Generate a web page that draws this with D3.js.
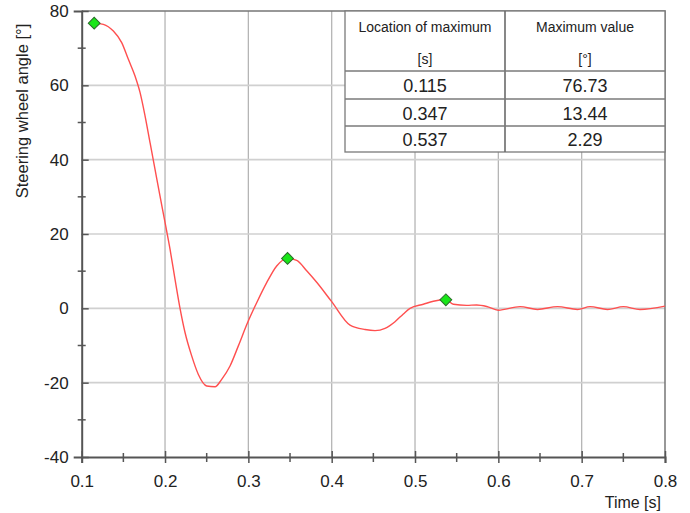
<!DOCTYPE html>
<html>
<head>
<meta charset="utf-8">
<script src="https://cdn.jsdelivr.net/npm/d3@7"></script>
<style>
  body { margin: 0; background: #fff; }
  svg { display: block; font-family: "Liberation Sans", Arial, sans-serif; }
</style>
</head>
<body>
<figure id="chart" style="margin:0"></figure>
<script>
// time samples [s] and steering wheel angle [°]
const times = [0.115, 0.126, 0.138, 0.148, 0.156, 0.164, 0.170, 0.176, 0.182, 0.188,
  0.194, 0.200, 0.206, 0.212, 0.218, 0.224, 0.232, 0.240, 0.250, 0.260,
  0.268, 0.278, 0.288, 0.299, 0.310, 0.322, 0.334, 0.347, 0.358, 0.370,
  0.382, 0.400, 0.422, 0.440, 0.452, 0.464, 0.476, 0.486, 0.494, 0.510,
  0.522, 0.537, 0.546, 0.562, 0.574, 0.586, 0.600, 0.626, 0.647, 0.671,
  0.695, 0.710, 0.731, 0.750, 0.770, 0.800];
const angles = [76.73, 76.4, 74.6, 71.5, 67.0, 62.5, 58.1, 51.8, 44.6, 37.4,
  30.2, 23.1, 15.9, 7.8, 0.0, -6.5, -12.8, -17.8, -20.9, -21.1,
  -19.1, -15.5, -10.1, -3.9, 1.5, 6.9, 11.4, 13.44, 12.9, 10.1,
  7.0, 1.8, -4.5, -5.7, -6.0, -5.4, -3.6, -1.5, 0.0, 1.1,
  1.9, 2.29, 1.1, 0.8, 0.9, 0.5, -0.5, 0.45, -0.3, 0.45,
  -0.3, 0.45, -0.3, 0.45, -0.3, 0.6];

// maxima
const peakTimes = [0.115, 0.347, 0.537];
const peakValues = [76.73, 13.44, 2.29];
const peakTimeLabels = ["0.115", "0.347", "0.537"];
const peakValueLabels = ["76.73", "13.44", "2.29"];
const tableHeaders = [["Location of maximum", "[s]"], ["Maximum value", "[°]"]];

const xTicks = [0.1, 0.2, 0.3, 0.4, 0.5, 0.6, 0.7, 0.8];
const xMinor = [0.15, 0.25, 0.35, 0.45, 0.55, 0.65, 0.75];
const yTicks = [-40, -20, 0, 20, 40, 60, 80];
const yMinor = [-30, -10, 10, 30, 50, 70];

const W = 690, H = 513;
const plotL = 81.7, plotR = 665, plotT = 11, plotB = 457;
const axisColor = "#555";

const svg = d3.select("#chart").append("svg")
  .attr("width", W).attr("height", H);

const x = d3.scaleLinear().domain([0.1, 0.8]).range([plotL, plotR]);
const y = d3.scaleLinear().domain([-40, 80]).range([plotB, plotT]);

// grid
svg.append("g")
  .selectAll("line").data(xTicks.slice(1, -1)).join("line")
  .attr("x1", d => x(d)).attr("x2", d => x(d))
  .attr("y1", plotT).attr("y2", plotB)
  .attr("stroke", "#b5b5b5").attr("stroke-width", 1.3);
svg.append("g")
  .selectAll("line").data(yTicks.slice(1, -1)).join("line")
  .attr("x1", plotL).attr("x2", plotR)
  .attr("y1", d => y(d)).attr("y2", d => y(d))
  .attr("stroke", "#d0d0d0").attr("stroke-width", 1.6);

// frame top / right
svg.append("path")
  .attr("d", `M${plotL},${plotT}H${plotR}V${plotB}`)
  .attr("fill", "none").attr("stroke", "#777").attr("stroke-width", 1.5);

// axes
const xAxis = g => g
  .attr("transform", `translate(0,${plotB})`)
  .call(d3.axisBottom(x).tickValues(xTicks).tickFormat(d3.format(".1f")).tickSize(6).tickPadding(12))
  .call(g => g.select(".domain").attr("stroke", axisColor).attr("stroke-width", 2))
  .call(g => g.selectAll(".tick line").attr("y1", -6).attr("stroke", axisColor).attr("stroke-width", 1.5))
  .call(g => g.selectAll(".tick text").attr("font-size", 17).attr("fill", "#222"))
  .call(g => g.selectAll(".minor").data(xMinor).join("line").attr("class", "minor")
    .attr("x1", d => x(d)).attr("x2", d => x(d)).attr("y1", -4).attr("y2", 5)
    .attr("stroke", axisColor).attr("stroke-width", 1.5));

const yAxis = g => g
  .attr("transform", `translate(${plotL},0)`)
  .call(d3.axisLeft(y).tickValues(yTicks).tickFormat(d => String(d)).tickSize(8).tickPadding(5))
  .call(g => g.select(".domain").attr("stroke", axisColor).attr("stroke-width", 2))
  .call(g => g.selectAll(".tick line").attr("x2", 7).attr("stroke", axisColor).attr("stroke-width", 1.5))
  .call(g => g.selectAll(".tick text").attr("font-size", 17).attr("fill", "#222"))
  .call(g => g.selectAll(".minor").data(yMinor).join("line").attr("class", "minor")
    .attr("y1", d => y(d)).attr("y2", d => y(d)).attr("x1", -4).attr("x2", 4)
    .attr("stroke", axisColor).attr("stroke-width", 1.5));

svg.append("g").call(xAxis);
svg.append("g").call(yAxis);

// axis titles
svg.append("text")
  .attr("x", plotR - 4).attr("y", 508)
  .attr("text-anchor", "end").attr("font-size", 16).attr("fill", "#222")
  .text("Time [s]");
svg.append("text")
  .attr("transform", "translate(22,111) rotate(-90)")
  .attr("text-anchor", "middle").attr("dominant-baseline", "central")
  .attr("font-size", 16.5).attr("fill", "#222")
  .text("Steering wheel angle [°]");

// curve
const data = times.map((t, i) => ({ t, v: angles[i] }));
svg.append("path")
  .datum(data)
  .attr("fill", "none")
  .attr("stroke", "#ff4f4f")
  .attr("stroke-width", 1.4)
  .attr("d", d3.line().x(d => x(d.t)).y(d => y(d.v)).curve(d3.curveMonotoneX));

// markers
svg.append("g")
  .selectAll("path").data(peakTimes).join("path")
  .attr("transform", (d, i) => `translate(${x(d)},${y(peakValues[i])}) rotate(45)`)
  .attr("d", d3.symbol(d3.symbolSquare, 70))
  .attr("fill", "#19e619").attr("stroke", "#2b6b2b").attr("stroke-width", 1);

// table
const tx0 = 345, tx1 = 505, tx2 = plotR;
const rowY = [plotT, 71, 99, 126, 152];
const table = svg.append("g");
table.append("rect")
  .attr("x", tx0).attr("y", plotT).attr("width", tx2 - tx0).attr("height", rowY[4] - plotT)
  .attr("fill", "#fff").attr("stroke", "#7a7a7a").attr("stroke-width", 1.3);
table.append("line")
  .attr("x1", tx1).attr("x2", tx1).attr("y1", plotT).attr("y2", rowY[4])
  .attr("stroke", "#6a6a6a").attr("stroke-width", 1.6);
table.selectAll(".rowline").data(rowY.slice(1, 4)).join("line")
  .attr("x1", tx0).attr("x2", tx2).attr("y1", d => d).attr("y2", d => d)
  .attr("stroke", "#7a7a7a").attr("stroke-width", 1.3);

const colCx = [(tx0 + tx1) / 2, (tx1 + tx2) / 2];
tableHeaders.forEach((h, c) => {
  table.append("text").attr("x", colCx[c]).attr("y", 27)
    .attr("text-anchor", "middle").attr("dominant-baseline", "central")
    .attr("font-size", 14).attr("fill", "#222").text(h[0]);
  table.append("text").attr("x", colCx[c]).attr("y", 59)
    .attr("text-anchor", "middle").attr("dominant-baseline", "central")
    .attr("font-size", 14).attr("fill", "#222").text(h[1]);
});
[peakTimeLabels, peakValueLabels].forEach((col, c) => {
  table.selectAll(".c" + c).data(col).join("text")
    .attr("x", colCx[c])
    .attr("y", (d, i) => (rowY[i + 1] + rowY[i + 2]) / 2 + 1)
    .attr("text-anchor", "middle").attr("dominant-baseline", "central")
    .attr("font-size", 18).attr("fill", "#222").text(d => d);
});
</script>
</body>
</html>
